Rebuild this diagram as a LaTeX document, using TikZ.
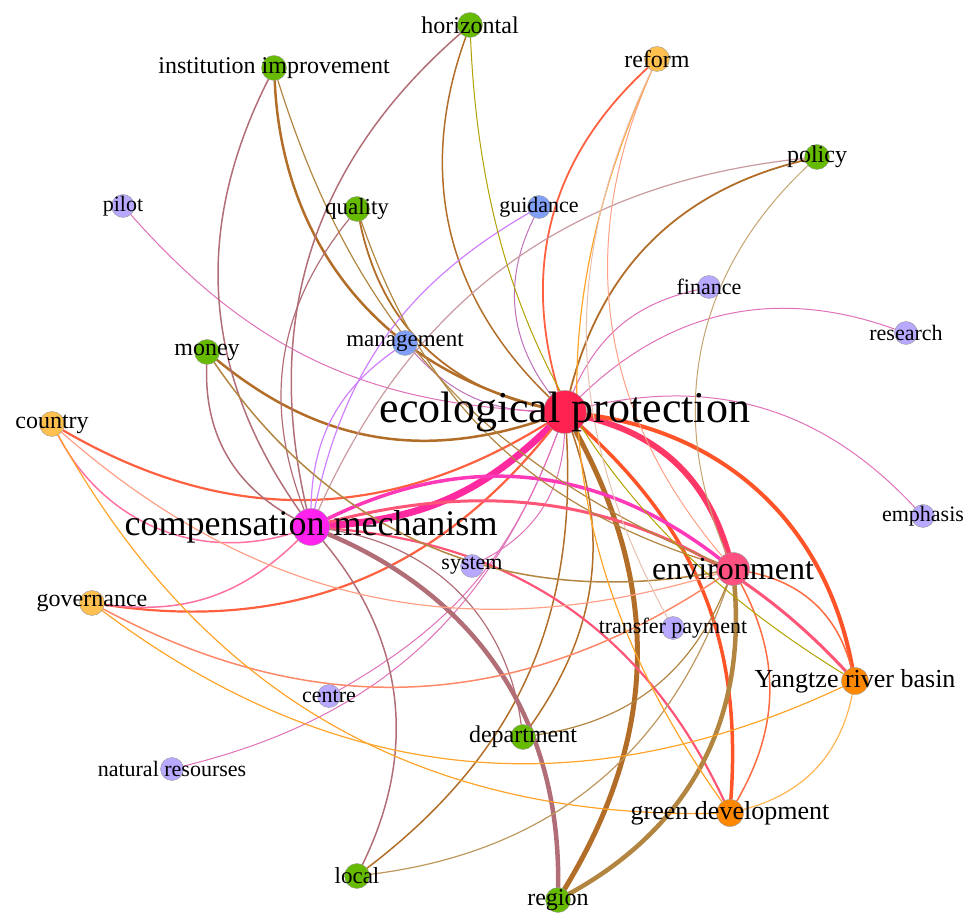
\documentclass[tikz,border=0pt]{standalone}
\usepackage{fontspec}
\setmainfont{Liberation Serif}

\definecolor{nRed}{HTML}{FF2250}
\definecolor{nMag}{HTML}{FF22EE}
\definecolor{nEnv}{HTML}{FF5080}
\definecolor{nOrg}{HTML}{FF8800}
\definecolor{nYel}{HTML}{FFC050}
\definecolor{nGrn}{HTML}{66BB00}
\definecolor{nLav}{HTML}{B8A8FF}
\definecolor{nBlu}{HTML}{80A0F8}

\definecolor{eEPcm}{HTML}{FF2AA0}
\definecolor{eEPenv}{HTML}{FF3868}
\definecolor{eEPorg}{HTML}{FF5428}
\definecolor{eEPgrn}{HTML}{B26E28}
\definecolor{eEPlav}{HTML}{E070B8}
\definecolor{eEPblu}{HTML}{C070B8}
\definecolor{eEPyel}{HTML}{FF6040}
\definecolor{eCMgrn}{HTML}{B26E77}
\definecolor{eCMblu}{HTML}{D080FF}
\definecolor{eCMenv}{HTML}{FF39B7}
\definecolor{eCMorg}{HTML}{FF5577}
\definecolor{eCMyel}{HTML}{FF71A0}
\definecolor{eENVgrn}{HTML}{B28540}
\definecolor{eENVorg}{HTML}{FF6C40}
\definecolor{eENVyel}{HTML}{FF8868}
\definecolor{eYELorg}{HTML}{FFA428}
\definecolor{eGRNorg}{HTML}{B2A100}
\definecolor{eYELlav}{HTML}{E8C0B0}

\pgfdeclarelayer{edges}
\pgfsetlayers{edges,main}

\tikzset{
  kw/.style={circle, draw=black!40, line width=0.4pt, inner sep=0pt, minimum size=#1},
  kw/.default=25,
  lbl/.style={inner sep=0pt, font=\fontsize{#1}{#1}\selectfont},
  lbl/.default=24,
  ed/.style={line cap=round}
}

\begin{document}
\begin{tikzpicture}[x=1pt, y=1pt]
  \useasboundingbox (0,0) rectangle (972,914);

  % keyword nodes
  \node[kw=43, fill=nRed] (ep) at (565,502) {};
  \node[kw=37, fill=nMag] (cm) at (311,387) {};
  \node[kw=33, fill=nEnv] (env) at (733,345) {};
  \node[kw=27, fill=nOrg] (yrb) at (855,233) {};
  \node[kw=27, fill=nOrg] (gd) at (730,101) {};
  \node[kw, fill=nGrn] (region) at (558,14) {};
  \node[kw, fill=nGrn] (local) at (357,38) {};
  \node[kw, fill=nGrn] (dept) at (523,177) {};
  \node[kw=23, fill=nLav] (centre) at (329,218) {};
  \node[kw=23, fill=nLav] (natres) at (172,145) {};
  \node[kw, fill=nYel] (gov) at (92,311) {};
  \node[kw, fill=nYel] (country) at (52,490) {};
  \node[kw, fill=nGrn] (money) at (207,562) {};
  \node[kw=23, fill=nLav] (pilot) at (123,708) {};
  \node[kw, fill=nGrn] (inst) at (274,846) {};
  \node[kw, fill=nGrn] (horiz) at (470,889) {};
  \node[kw, fill=nGrn] (quality) at (357,705) {};
  \node[kw=23, fill=nBlu] (guidance) at (539,707) {};
  \node[kw, fill=nBlu] (mgmt) at (405,571) {};
  \node[kw, fill=nYel] (reform) at (657,855) {};
  \node[kw, fill=nGrn] (policy) at (817,757) {};
  \node[kw=23, fill=nLav] (finance) at (709,627) {};
  \node[kw=23, fill=nLav] (research) at (906,581) {};
  \node[kw=23, fill=nLav] (emphasis) at (923,398) {};
  \node[kw=23, fill=nLav] (system) at (472,348) {};
  \node[kw=23, fill=nLav] (tp) at (673,286) {};

  % co-occurrence links
  \begin{pgfonlayer}{edges}
    \draw[ed, eEPcm, line width=7] (ep) to[bend left=20] (cm);
    \draw[ed, eEPenv, line width=6] (ep) to[bend left=30] (env);
    \draw[ed, eEPorg, line width=4] (ep) to[bend left=36] (yrb);
    \draw[ed, eEPorg, line width=3.5] (ep) to[bend left=26] (gd);
    \draw[ed, eEPgrn, line width=5] (ep) to[bend left=30] (region);
    \draw[ed, eEPgrn, line width=2.5] (ep) to[bend left=29] (money);
    \draw[ed, eEPgrn, line width=2.5] (ep) to[bend left=37] (inst);
    \draw[ed, eEPgrn, line width=1.8] (ep) to[bend left=33] (quality);
    \draw[ed, eEPgrn, line width=1.5] (ep) to[bend left=33] (horiz);
    \draw[ed, eEPgrn, line width=1.8] (ep) to[bend left=31] (policy);
    \draw[ed, eEPgrn, line width=1.5] (ep) to[bend left=28] (local);
    \draw[ed, eEPgrn, line width=1.5] (ep) to[bend left=27] (dept);
    \draw[ed, eEPyel, line width=2.2] (ep) to[bend left=31] (country);
    \draw[ed, eEPyel, line width=2.2] (ep) to[bend left=30] (gov);
    \draw[ed, eEPyel, line width=1.8] (ep) to[bend left=32] (reform);
    \draw[ed, eEPblu, line width=1] (ep) to[bend left=32] (guidance);
    \draw[ed, eEPblu, line width=1] (ep) to[bend left=23] (mgmt);
    \draw[ed, eEPlav, line width=1] (ep) to[bend left=23] (pilot);
    \draw[ed, eEPlav, line width=1] (ep) to[bend left=27] (finance);
    \draw[ed, eEPlav, line width=1] (ep) to[bend left=32] (research);
    \draw[ed, eEPlav, line width=1] (ep) to[bend left=30] (emphasis);
    \draw[ed, eEPlav, line width=1] (ep) to[bend left=20] (centre);
    \draw[ed, eEPlav, line width=1] (ep) to[bend left=28] (natres);
    \draw[ed, eEPlav, line width=1] (ep) to[bend left=30] (system);

    \draw[ed, eCMenv, line width=3.5] (cm) to[bend left=32] (env);
    \draw[ed, eCMorg, line width=3] (cm) to[bend left=31] (yrb);
    \draw[ed, eCMorg, line width=2.2] (cm) to[bend left=30] (gd);
    \draw[ed, eCMgrn, line width=4.5] (cm) to[bend left=34] (region);
    \draw[ed, eCMgrn, line width=1.2] (cm) to[bend left=37] (dept);
    \draw[ed, eCMgrn, line width=1.5] (cm) to[bend left=33] (local);
    \draw[ed, eCMgrn, line width=1.5] (cm) to[bend left=31] (inst);
    \draw[ed, eCMgrn, line width=1.5] (cm) to[bend left=31] (horiz);
    \draw[ed, eCMgrn, line width=1.2] (cm) to[bend left=30] (quality);
    \draw[ed, eCMgrn, line width=1.5] (cm) to[bend left=32] (money);
    \draw[ed, eCMgrn!70, line width=1.2] (cm) to[bend left=30] (policy);
    \draw[ed, eCMblu, line width=1.2] (cm) to[bend left=27] (mgmt);
    \draw[ed, eCMblu, line width=1.2] (cm) to[bend left=24] (guidance);
    \draw[ed, eCMyel, line width=1.5] (cm) to[bend left=40] (country);
    \draw[ed, eCMyel, line width=1.5] (cm) to[bend left=26] (gov);

    \draw[ed, eENVgrn, line width=4.5] (env) to[bend left=33] (region);
    \draw[ed, eENVgrn, line width=1.5] (env) to[bend left=33] (money);
    \draw[ed, eENVgrn, line width=1.2] (env) to[bend left=25] (inst);
    \draw[ed, eENVgrn, line width=1.2] (env) to[bend left=27] (quality);
    \draw[ed, eENVgrn!75, line width=1] (env) to[bend left=35] (policy);
    \draw[ed, eENVgrn!85, line width=1.2] (env) to[bend left=32] (local);
    \draw[ed, eENVgrn, line width=1.2] (env) to[bend left=30] (dept);
    \draw[ed, eENVyel, line width=1.5] (env) to[bend left=31] (gov);
    \draw[ed, eENVyel!80, line width=1.2] (env) to[bend left=29] (country);
    \draw[ed, eENVyel!80, line width=1] (env) to[bend left=32] (reform);
    \draw[ed, eENVorg, line width=1.5] (env) to[bend left=32] (yrb);
    \draw[ed, eENVorg, line width=1.5] (env) to[bend left=29] (gd);

    \draw[ed, eYELorg, line width=1.2] (yrb) to[bend left=31] (gov);
    \draw[ed, eYELorg, line width=1.2] (gd) to[bend left=31] (country);
    \draw[ed, eYELorg, line width=1.2] (gd) to[bend left=30] (reform);
    \draw[ed, eYELorg!80, line width=1.2] (yrb) to[bend left=32] (gd);
    \draw[ed, eGRNorg, line width=1] (yrb) to[bend left=28] (horiz);
    \draw[ed, eYELlav, line width=1] (tp) to[bend left=27] (reform);
  \end{pgfonlayer}

  % labels
  \node[lbl=44] (ep-t) at (ep) {ecological protection};
  \node[lbl=36] (cm-t) at (cm) {compensation mechanism};
  \node[lbl=32] (env-t) at (env) {environment};
  \node[lbl=26] (yrb-t) at (yrb) {Yangtze river basin};
  \node[lbl=26] (gd-t) at (gd) {green development};
  \node[lbl] (region-t) at (region) {region};
  \node[lbl=23] (local-t) at (local) {local};
  \node[lbl] (dept-t) at (dept) {department};
  \node[lbl=22] (centre-t) at (centre) {centre};
  \node[lbl=22] (natres-t) at (natres) {natural resourses};
  \node[lbl] (gov-t) at (gov) {governance};
  \node[lbl] (country-t) at (country) {country};
  \node[lbl] (money-t) at (money) {money};
  \node[lbl=22] (pilot-t) at (pilot) {pilot};
  \node[lbl] (inst-t) at (inst) {institution improvement};
  \node[lbl] (horiz-t) at (horiz) {horizontal};
  \node[lbl=23] (quality-t) at (quality) {quality};
  \node[lbl=22] (guidance-t) at (guidance) {guidance};
  \node[lbl=23] (mgmt-t) at (mgmt) {management};
  \node[lbl] (reform-t) at (reform) {reform};
  \node[lbl] (policy-t) at (policy) {policy};
  \node[lbl=22] (finance-t) at (finance) {finance};
  \node[lbl=22] (research-t) at (research) {research};
  \node[lbl=22] (emphasis-t) at (emphasis) {emphasis};
  \node[lbl=22] (system-t) at (system) {system};
  \node[lbl=22] (tp-t) at (tp) {transfer payment};
\end{tikzpicture}
\end{document}
